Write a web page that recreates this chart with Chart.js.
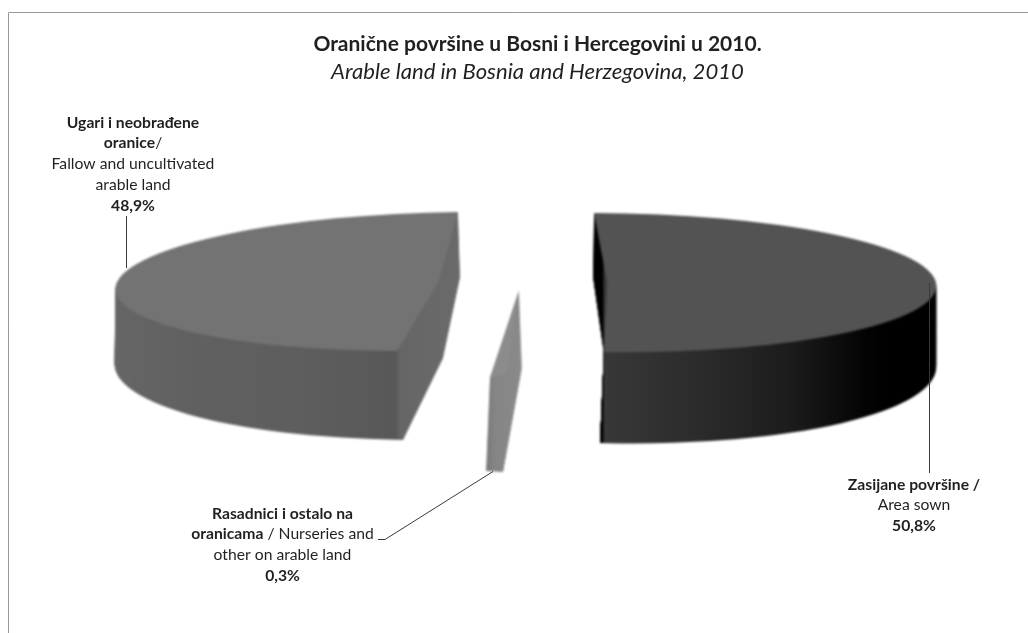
<!DOCTYPE html>
<html>
<head>
<meta charset="utf-8">
<title>Oranične površine</title>
<script src="https://cdn.jsdelivr.net/npm/chart.js@4/dist/chart.umd.min.js"></script>
<style>
    html, body { margin: 0; padding: 0; background: #fff; }
    canvas { display: block; }
</style>
</head>
<body>
<canvas id="PieChart" width="1028" height="633"></canvas>
<script>
// ---------------- Data ----------------
const categories = ["Zasijane površine", "Rasadnici i ostalo na oranicama", "Ugari i neobrađene oranice"];
const shares = [50.8, 0.3, 48.9];
const sliceColors = ["#535353", "#8c8c8c", "#737373"];

const chartTitle = "Oranične površine u Bosni i Hercegovini u 2010.";
const chartSubtitle = "Arable land in Bosnia and Herzegovina, 2010";

const shareText = shares.map(v => v.toFixed(1).replace(".", ",") + "%");

// each line is a list of [text, bold] runs
const sownLines = [[["Zasijane površine /", true]], [["Area sown", false]], [[shareText[0], true]]];
const nurseryLines = [[["Rasadnici i ostalo na", true]], [["oranicama", true], [" / Nurseries and", false]], [["other on arable land", false]], [[shareText[1], true]]];
const fallowLines = [[["Ugari i neobrađene", true]], [["oranice", true], ["/", false]], [["Fallow and uncultivated", false]], [["arable land", false]], [[shareText[2], true]]];


// ---------------- Layout of the tilted 3D look ----------------
// top = upper face of a slice, base = lower face; o is the centre, a and b are the
// pixel images of the unit circle axes, so the library's arc gets squashed by them
const sliceFaces = [
    {
        top: { o: [607.2, 282.6], a: [328.8, 0.4], b: [13.2, 69.6] },
        base: { o: [604.8, 360.2], a: [331.2, 3.9], b: [11.8, 83.2] },
        shade: [[590, "#000000"], [603, "#000000"], [604, "#383838"], [700, "#2b2b2b"], [790, "#1c1c1c"], [860, "#050505"], [885, "#000000"], [937, "#000000"]]
    },
    {
        top: { o: [519, 290], a: [901, -268.7], b: [33.1, 69.6] },
        base: { o: [522, 367], a: [901.7, 46.7], b: [26.3, 107.5] },
        shade: [[484, "#767676"], [495, "#858585"], [524, "#8a8a8a"]]
    },
    {
        top: { o: [438.6, 281.5], a: [322.6, -3.5], b: [-19.4, 69.5] },
        base: { o: [442.8, 358.5], a: [327.8, -1.5], b: [-17.2, 81.5] },
        shade: [[115, "#666666"], [200, "#606060"], [300, "#5e5e5e"], [396, "#585858"], [400, "#666666"], [460, "#6a6a6a"]]
    }
];
const wallLayers = 90;
const softEdge = "blur(1px)";


function mix(p, q, t) {
    return [p[0] + (q[0] - p[0]) * t, p[1] + (q[1] - p[1]) * t];
}

function drawSliceFace(ctx, arc, face, shade) {
    const r = arc.outerRadius;
    const ax = face.a[0] / r, ay = face.a[1] / r;
    const bx = face.b[0] / r, by = face.b[1] / r;

    ctx.save();
    ctx.transform(ax, ay, bx, by,
        face.o[0] - ax * arc.x - bx * arc.y,
        face.o[1] - ay * arc.x - by * arc.y);

    const saved = arc.options;
    if (shade) {
        // gradient that runs along the page x, written in the arc's own coordinates
        const len = ax * ax + bx * bx;
        const x0 = shade[0][0], x1 = shade[shade.length - 1][0];
        const g = ctx.createLinearGradient(
            arc.x + (x0 - face.o[0]) * ax / len, arc.y + (x0 - face.o[0]) * bx / len,
            arc.x + (x1 - face.o[0]) * ax / len, arc.y + (x1 - face.o[0]) * bx / len);
        shade.forEach(s => g.addColorStop((s[0] - x0) / (x1 - x0), s[1]));
        arc.options = Object.assign({}, saved, { backgroundColor: g });
    }
    arc.draw(ctx);
    arc.options = saved;
    ctx.restore();
}

const tiltedPie = {
    id: "tiltedPie",
    beforeDatasetsDraw(chart) {
        // drawn on a spare canvas first so the edges can be softened once at the end
        const spare = document.createElement("canvas");
        spare.width = chart.width;
        spare.height = chart.height;
        const sctx = spare.getContext("2d");

        chart.getDatasetMeta(0).data.forEach((arc, i) => {
            const f = sliceFaces[i];
            for (let k = wallLayers; k > 0; k--) {
                const t = k / wallLayers;
                drawSliceFace(sctx, arc, {
                    o: mix(f.top.o, f.base.o, t),
                    a: mix(f.top.a, f.base.a, t),
                    b: mix(f.top.b, f.base.b, t)
                }, f.shade);
            }
            drawSliceFace(sctx, arc, f.top, null);
        });

        chart.ctx.save();
        chart.ctx.filter = softEdge;
        chart.ctx.drawImage(spare, 0, 0);
        chart.ctx.restore();
        return false;
    }
};


// ---------------- Frame, callouts and leader lines ----------------
const textColor = "#231f20";
const calloutFont = "Lato";
const calloutSize = 15.7;
const lineGap = 20.9;

function drawCallout(ctx, lines, centerX, firstY) {
    ctx.textBaseline = "middle";
    ctx.textAlign = "left";
    ctx.fillStyle = textColor;

    lines.forEach((runs, n) => {
        const fonts = runs.map(run => `${run[1] ? "bold " : ""}${calloutSize}px ${calloutFont}`);
        let width = 0;
        runs.forEach((run, j) => {
            ctx.font = fonts[j];
            width += ctx.measureText(run[0]).width;
        });
        let x = centerX - width / 2;
        runs.forEach((run, j) => {
            ctx.font = fonts[j];
            ctx.fillText(run[0], x, firstY + n * lineGap);
            x += ctx.measureText(run[0]).width;
        });
    });
}

function strokePath(ctx, points, color) {
    ctx.beginPath();
    points.forEach((p, n) => n ? ctx.lineTo(p[0], p[1]) : ctx.moveTo(p[0], p[1]));
    ctx.strokeStyle = color;
    ctx.lineWidth = 1;
    ctx.stroke();
}

const annotations = {
    id: "annotations",
    beforeDraw(chart) {
        strokePath(chart.ctx, [[8.5, 633], [8.5, 12.5], [1028, 12.5]], "#999999");
    },
    afterDraw(chart) {
        const ctx = chart.ctx;
        strokePath(ctx, [[126.5, 216], [126.5, 268]], "#3a3a3a");
        strokePath(ctx, [[929.5, 283], [929.5, 473]], "#3a3a3a");
        strokePath(ctx, [[378, 539.5], [385, 539.5], [493, 471.5]], "#3a3a3a");

        drawCallout(ctx, fallowLines, 133, 122.5);
        drawCallout(ctx, nurseryLines, 282.5, 513.5);
        drawCallout(ctx, sownLines, 914, 484.5);
    }
};


// ---------------- Create Chart ----------------
new Chart(document.getElementById("PieChart"), {
    type: "pie",
    data: {
        labels: categories,
        datasets: [{
            data: shares,
            backgroundColor: sliceColors,
            borderWidth: 0
        }]
    },
    options: {
        responsive: false,
        animation: false,
        layout: { padding: { left: 47, top: 32 } },
        plugins: {
            legend: { display: false },
            tooltip: { enabled: false },
            title: {
                display: true,
                text: chartTitle,
                color: textColor,
                font: { family: "Lato", size: 21, weight: "bold" },
                padding: { top: 0, bottom: 1.5 }
            },
            subtitle: {
                display: true,
                text: chartSubtitle,
                color: textColor,
                font: { family: "Lato", size: 22.1, style: "italic" }
            }
        }
    },
    plugins: [tiltedPie, annotations]
});
</script>
</body>
</html>
